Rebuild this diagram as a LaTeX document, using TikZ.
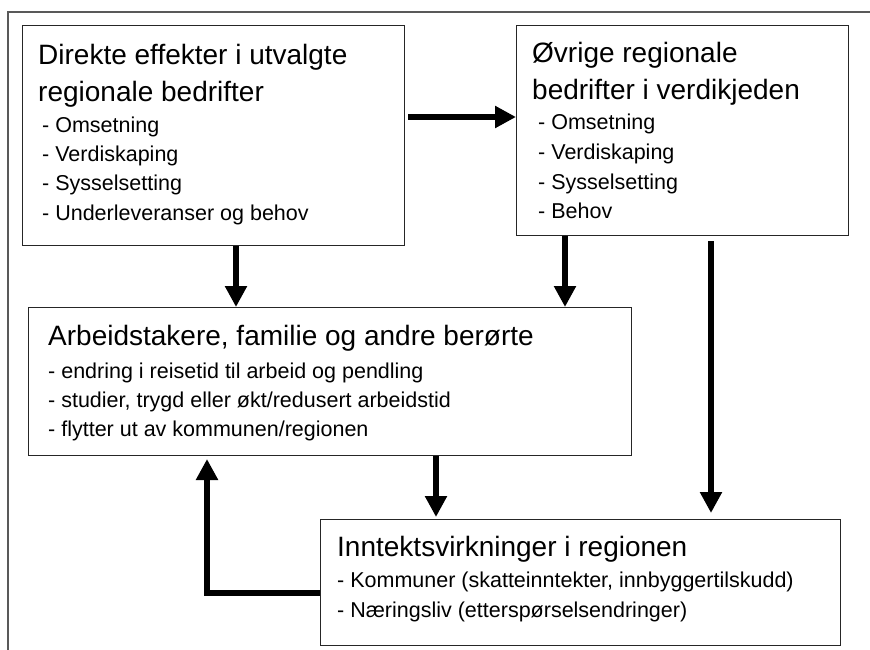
\documentclass[tikz,border=0pt]{standalone}
\usepackage{fontspec}
\setmainfont{Liberation Sans}
\usetikzlibrary{arrows.meta}
\begin{document}
\begin{tikzpicture}[x=1pt,y=-1pt,
  frame/.style={draw=black!65, line width=1.2pt},
  box/.style={draw=black!85, line width=1pt, anchor=north west, inner sep=0pt},
  ttl/.style={anchor=base west, inner sep=0pt, font=\fontsize{28}{34}\selectfont},
  itm/.style={anchor=base west, inner sep=0pt, font=\fontsize{21.5}{26}\selectfont},
  arr/.style={line width=6.5pt, line join=miter, -{Triangle[width=21pt,length=21pt]}}]
\useasboundingbox (0,0) rectangle (870,650);
\fill[white] (0,0) rectangle (870,650);
\draw[frame] (8,650) -- (8,12) -- (870,12);
% boxes
\node[box, minimum width=382pt, minimum height=220pt] (b1) at (22,25) {};
\node[box, minimum width=332pt, minimum height=210pt] (b2) at (516,25) {};
\node[box, minimum width=603pt, minimum height=148pt] (b3) at (28,307) {};
\node[box, minimum width=520pt, minimum height=126pt] (b4) at (320,519) {};
% box 1 text
\node[ttl] (t1a) at (38,65) {Direkte effekter i utvalgte};
\node[ttl] (t1b) at (38,102) {regionale bedrifter};
\node[itm] (i1a) at (42,132) {- Omsetning};
\node[itm] (i1b) at (42,161) {- Verdiskaping};
\node[itm] (i1c) at (42,190) {- Sysselsetting};
\node[itm] (i1d) at (42,220) {- Underleveranser og behov};
% box 2 text
\node[ttl] (t2a) at (532,63) {Øvrige regionale};
\node[ttl] (t2b) at (532,100) {bedrifter i verdikjeden};
\node[itm] (i2a) at (538,130) {- Omsetning};
\node[itm] (i2b) at (538,159.5) {- Verdiskaping};
\node[itm] (i2c) at (538,189) {- Sysselsetting};
\node[itm] (i2d) at (538,218) {- Behov};
% box 3 text
\node[ttl] (t3a) at (48,345) {Arbeidstakere, familie og andre berørte};
\node[itm] (i3a) at (48,378) {- endring i reisetid til arbeid og pendling};
\node[itm] (i3b) at (48,407) {- studier, trygd eller økt/redusert arbeidstid};
\node[itm] (i3c) at (48,436) {- flytter ut av kommunen/regionen};
% box 4 text
\node[ttl] (t4a) at (337,556) {Inntektsvirkninger i regionen};
\node[itm] (i4a) at (337,587) {- Kommuner (skatteinntekter, innbyggertilskudd)};
\node[itm] (i4b) at (337,617) {- Næringsliv (etterspørselsendringer)};
% connector guides
\coordinate (h1) at (0,117);
\coordinate (v1) at (236,0);
\coordinate (v2) at (565,0);
\coordinate (v3) at (711,0);
\coordinate (v4) at (436,0);
\coordinate (fb) at (207,593);
% connectors
\draw[arr, shorten <=3pt] (b1.east |- h1) -- (b2.west |- h1);
\draw[arr] (b1.south -| v1) -- (b3.north -| v1);
\draw[arr] (b2.south -| v2) -- (b3.north -| v2);
\draw[arr, shorten <=5pt, shorten >=6pt] (b2.south -| v3) -- (b4.north -| v3);
\draw[arr, shorten >=2pt] (b3.south -| v4) -- (b4.north -| v4);
\draw[arr, shorten >=3pt] (b4.west |- fb) -- (fb) -- (b3.south -| fb);
\end{tikzpicture}
\end{document}
